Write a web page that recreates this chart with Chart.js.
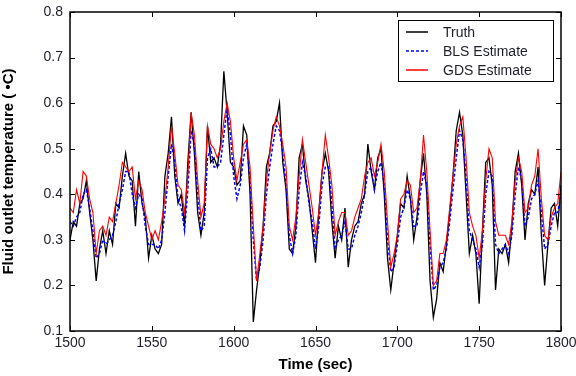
<!DOCTYPE html>
<html>
<head>
<meta charset="utf-8">
<script src="https://cdn.jsdelivr.net/npm/chart.js@4/dist/chart.umd.min.js"></script>
<style>
  html, body { margin: 0; padding: 0; background: #fff; }
  #wrap { width: 576px; height: 376px; }
</style>
</head>
<body>
<div id="wrap"><canvas id="c" width="576" height="376"></canvas></div>
<script>
// -------------------------------
// Data (sampled every 2 sec)
// -------------------------------
const startTime = 1500;
const stepTime = 2;

const truth = [
  0.30, 0.34, 0.33, 0.38, 0.39, 0.43, 0.36, 0.30, 0.21, 0.28,
  0.32, 0.27, 0.32, 0.29, 0.38, 0.37, 0.44, 0.49, 0.44, 0.43,
  0.33, 0.45, 0.38, 0.35, 0.26, 0.31, 0.28, 0.27, 0.29, 0.44,
  0.49, 0.57, 0.44, 0.38, 0.40, 0.33, 0.47, 0.58, 0.49, 0.36,
  0.31, 0.36, 0.55, 0.47, 0.48, 0.46, 0.51, 0.67, 0.58, 0.47,
  0.46, 0.42, 0.43, 0.55, 0.53, 0.40, 0.12, 0.19, 0.25, 0.33,
  0.46, 0.49, 0.55, 0.56, 0.60, 0.47, 0.41, 0.28, 0.27, 0.33,
  0.48, 0.51, 0.43, 0.39, 0.32, 0.25, 0.36, 0.45, 0.49, 0.45,
  0.34, 0.26, 0.33, 0.30, 0.37, 0.24, 0.30, 0.33, 0.34, 0.38,
  0.40, 0.51, 0.45, 0.41, 0.48, 0.50, 0.40, 0.26, 0.19, 0.25,
  0.31, 0.38, 0.37, 0.44, 0.39, 0.30, 0.35, 0.43, 0.49, 0.40,
  0.21, 0.13, 0.17, 0.25, 0.23, 0.29, 0.36, 0.44, 0.54, 0.58,
  0.53, 0.40, 0.27, 0.31, 0.27, 0.16, 0.32, 0.47, 0.48, 0.42,
  0.19, 0.28, 0.27, 0.29, 0.25, 0.33, 0.45, 0.49, 0.42, 0.30,
  0.38, 0.41, 0.40, 0.46, 0.31, 0.20, 0.29, 0.37, 0.38, 0.33,
  0.42
];

const blsEstimate = [
  0.34, 0.33, 0.35, 0.36, 0.40, 0.41, 0.37, 0.32, 0.26, 0.27,
  0.30, 0.29, 0.30, 0.31, 0.34, 0.38, 0.41, 0.45, 0.45, 0.40,
  0.37, 0.40, 0.39, 0.33, 0.29, 0.29, 0.29, 0.28, 0.30, 0.36,
  0.44, 0.51, 0.47, 0.39, 0.37, 0.32, 0.41, 0.54, 0.51, 0.40,
  0.32, 0.33, 0.48, 0.50, 0.46, 0.46, 0.47, 0.53, 0.59, 0.53,
  0.44, 0.39, 0.42, 0.48, 0.51, 0.43, 0.30, 0.21, 0.24, 0.30,
  0.40, 0.46, 0.51, 0.55, 0.54, 0.49, 0.42, 0.31, 0.27, 0.31,
  0.41, 0.47, 0.44, 0.38, 0.34, 0.28, 0.33, 0.42, 0.46, 0.46,
  0.38, 0.28, 0.30, 0.31, 0.34, 0.28, 0.28, 0.31, 0.33, 0.36,
  0.40, 0.45, 0.46, 0.41, 0.45, 0.47, 0.42, 0.30, 0.23, 0.24,
  0.29, 0.35, 0.37, 0.41, 0.39, 0.33, 0.33, 0.40, 0.45, 0.42,
  0.29, 0.19, 0.20, 0.24, 0.25, 0.28, 0.34, 0.41, 0.48, 0.54,
  0.52, 0.44, 0.32, 0.30, 0.28, 0.24, 0.29, 0.40, 0.45, 0.44,
  0.29, 0.27, 0.28, 0.29, 0.27, 0.31, 0.40, 0.46, 0.43, 0.33,
  0.35, 0.39, 0.40, 0.43, 0.36, 0.28, 0.29, 0.33, 0.36, 0.36,
  0.40
];

const gdsEstimate = [
  0.37, 0.36, 0.41, 0.38, 0.45, 0.44, 0.39, 0.36, 0.27, 0.32,
  0.33, 0.31, 0.35, 0.34, 0.38, 0.42, 0.47, 0.46, 0.45, 0.46,
  0.39, 0.43, 0.41, 0.36, 0.33, 0.30, 0.32, 0.30, 0.34, 0.39,
  0.46, 0.55, 0.49, 0.42, 0.41, 0.36, 0.44, 0.58, 0.53, 0.43,
  0.35, 0.38, 0.55, 0.51, 0.50, 0.48, 0.50, 0.56, 0.60, 0.56,
  0.48, 0.43, 0.47, 0.51, 0.52, 0.46, 0.33, 0.21, 0.27, 0.33,
  0.43, 0.49, 0.54, 0.57, 0.55, 0.51, 0.46, 0.33, 0.30, 0.35,
  0.44, 0.52, 0.47, 0.42, 0.37, 0.31, 0.36, 0.45, 0.53, 0.48,
  0.42, 0.31, 0.34, 0.36, 0.36, 0.31, 0.32, 0.35, 0.37, 0.39,
  0.44, 0.47, 0.48, 0.44, 0.47, 0.51, 0.45, 0.34, 0.24, 0.27,
  0.31, 0.39, 0.40, 0.43, 0.42, 0.36, 0.37, 0.43, 0.53, 0.45,
  0.32, 0.20, 0.21, 0.27, 0.27, 0.30, 0.37, 0.44, 0.51, 0.55,
  0.57, 0.48, 0.36, 0.33, 0.31, 0.26, 0.32, 0.43, 0.50, 0.48,
  0.34, 0.31, 0.31, 0.31, 0.29, 0.34, 0.43, 0.48, 0.45, 0.36,
  0.37, 0.42, 0.44, 0.50, 0.39, 0.31, 0.30, 0.35, 0.37, 0.38,
  0.45
];

const xTicks = [1500, 1550, 1600, 1650, 1700, 1750, 1800];
const yTicks = [0.1, 0.2, 0.3, 0.4, 0.5, 0.6, 0.7, 0.8];
const seriesNames = ["Truth", "BLS Estimate", "GDS Estimate"];

// -------------------------------
// Helpers
// -------------------------------
function toPoints(arr) {
    return arr.map((v, i) => ({ x: startTime + i * stepTime, y: v }));
}

const tickColor = "#1e1e2a";
const fontFam = "Arial, 'Liberation Sans', sans-serif";

// box round the plot + inward ticks on all four sides (matlab style)
const boxPlugin = {
    id: "box",
    afterDatasetsDraw(chart) {
        const ctx = chart.ctx;
        const a = chart.chartArea;
        const xs = chart.scales.x, ys = chart.scales.y;
        ctx.save();
        ctx.strokeStyle = "#000";
        ctx.lineWidth = 1;
        ctx.beginPath();
        xTicks.forEach(t => {
            const px = Math.round(xs.getPixelForValue(t)) + 0.5;
            ctx.moveTo(px, a.bottom); ctx.lineTo(px, a.bottom - 5);
            ctx.moveTo(px, a.top); ctx.lineTo(px, a.top + 5);
        });
        yTicks.forEach(t => {
            const py = Math.round(ys.getPixelForValue(t)) + 0.5;
            ctx.moveTo(a.left, py); ctx.lineTo(a.left + 5, py);
            ctx.moveTo(a.right, py); ctx.lineTo(a.right - 5, py);
        });
        ctx.stroke();
        ctx.lineWidth = 1.5;
        ctx.strokeRect(a.left, a.top, a.right - a.left, a.bottom - a.top);
        ctx.restore();
    }
};

// legend box inside the plot, top right
const legendPlugin = {
    id: "legendBox",
    afterDraw(chart) {
        const ctx = chart.ctx;
        const a = chart.chartArea;
        const w = 155, h = 61;
        const x0 = a.right - 8 - w, y0 = a.top + 8;
        ctx.save();
        ctx.fillStyle = "#fff";
        ctx.fillRect(x0, y0, w, h);
        ctx.strokeStyle = "#000";
        ctx.lineWidth = 1;
        ctx.strokeRect(x0 + 0.5, y0 + 0.5, w, h);
        ctx.font = "14px " + fontFam;
        ctx.textBaseline = "middle";
        chart.data.datasets.forEach((ds, i) => {
            const y = Math.round(y0 + 12 + i * 19);
            ctx.strokeStyle = ds.borderColor;
            ctx.lineWidth = 1.5;
            ctx.setLineDash(ds.borderDash || []);
            ctx.beginPath();
            ctx.moveTo(x0 + 8, y);
            ctx.lineTo(x0 + 30, y);
            ctx.stroke();
            ctx.setLineDash([]);
            ctx.fillStyle = tickColor;
            ctx.fillText(ds.label, x0 + 45, y + 1);
        });
        ctx.restore();
    }
};

// -------------------------------
// Chart
// -------------------------------
new Chart(document.getElementById("c"), {
    type: "line",
    data: {
        datasets: [
            {
                label: seriesNames[0],
                data: toPoints(truth),
                borderColor: "#000000",
                borderWidth: 1.3,
                pointRadius: 0,
                tension: 0,
                order: 3
            },
            {
                label: seriesNames[1],
                data: toPoints(blsEstimate),
                borderColor: "#0000ff",
                borderWidth: 1.5,
                borderDash: [3, 2],
                pointRadius: 0,
                tension: 0,
                order: 2
            },
            {
                label: seriesNames[2],
                data: toPoints(gdsEstimate),
                borderColor: "#ff0000",
                borderWidth: 1.1,
                pointRadius: 0,
                tension: 0,
                order: 1
            }
        ]
    },
    options: {
        responsive: false,
        animation: false,
        layout: { padding: { top: 12, right: 15, left: 0, bottom: 0 } },
        plugins: {
            legend: { display: false },
            tooltip: { enabled: false }
        },
        scales: {
            x: {
                type: "linear",
                min: 1500,
                max: 1800,
                afterBuildTicks: s => { s.ticks = xTicks.map(v => ({ value: v })); },
                afterFit: s => { s.height = 45; s.paddingRight = 0; s.paddingLeft = 0; },
                grid: { display: false, drawTicks: false },
                border: { display: false },
                ticks: {
                    padding: 4,
                    color: tickColor,
                    maxRotation: 0,
                    callback: v => String(v),
                    font: { family: fontFam, size: 14 }
                },
                title: {
                    display: true,
                    text: "Time (sec)",
                    color: "#000",
                    padding: { top: 0, bottom: 2 },
                    font: { family: fontFam, size: 15, weight: "bold" }
                }
            },
            y: {
                min: 0.1,
                max: 0.8,
                afterBuildTicks: s => { s.ticks = yTicks.map(v => ({ value: v })); },
                afterFit: s => { s.width = 70; s.paddingTop = 0; s.paddingBottom = 0; },
                grid: { display: false, drawTicks: false },
                border: { display: false },
                ticks: {
                    padding: 7,
                    color: tickColor,
                    callback: v => v.toFixed(1),
                    font: { family: fontFam, size: 14 }
                },
                title: {
                    display: true,
                    text: "Fluid outlet temperature ( \u2022C)",
                    color: "#000",
                    padding: { top: 0, bottom: 6 },
                    font: { family: fontFam, size: 15, weight: "bold" }
                }
            }
        }
    },
    plugins: [boxPlugin, legendPlugin]
});
</script>
</body>
</html>
